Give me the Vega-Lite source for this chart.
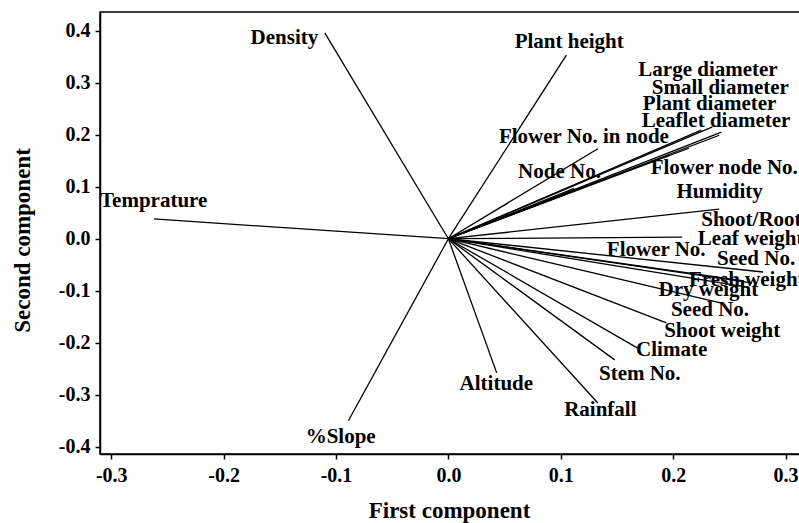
{
  "$schema": "https://vega.github.io/schema/vega-lite/v6.json",
  "autosize": {"type": "none"},
  "width": 708,
  "height": 442,
  "padding": {"left": 100, "top": 12, "right": 0, "bottom": 69},
  "background": "white",
  "config": {
    "view": {"stroke": "black", "strokeWidth": 1.5},
    "axis": {
      "grid": false,
      "domainColor": "black",
      "domainWidth": 1.5,
      "tickColor": "black",
      "tickWidth": 1.5,
      "tickSize": 5,
      "labelColor": "black",
      "labelFont": "Liberation Serif",
      "labelFontWeight": "bold",
      "labelFontSize": 20,
      "titleColor": "black",
      "titleFont": "Liberation Serif",
      "titleFontWeight": "bold",
      "titleFontSize": 23
    }
  },
  "data": {
    "values": [
      {"var": "Density", "pc1": -0.110, "pc2": 0.396, "lx": -0.176, "ly": 0.386},
      {"var": "Plant height", "pc1": 0.105, "pc2": 0.353, "lx": 0.059, "ly": 0.378},
      {"var": "Temprature", "pc1": -0.262, "pc2": 0.038, "lx": -0.310, "ly": 0.0725},
      {"var": "Large diameter", "pc1": 0.235, "pc2": 0.215, "lx": 0.169, "ly": 0.324},
      {"var": "Small diameter", "pc1": 0.243, "pc2": 0.205, "lx": 0.181, "ly": 0.290},
      {"var": "Plant diameter", "pc1": 0.225, "pc2": 0.209, "lx": 0.173, "ly": 0.259},
      {"var": "Leaflet diameter", "pc1": 0.241, "pc2": 0.199, "lx": 0.172, "ly": 0.226},
      {"var": "Flower No. in node", "pc1": 0.133, "pc2": 0.173, "lx": 0.045, "ly": 0.196},
      {"var": "Node No.", "pc1": 0.112, "pc2": 0.097, "lx": 0.062, "ly": 0.128},
      {"var": "Flower node No.", "pc1": 0.214, "pc2": 0.174, "lx": 0.180, "ly": 0.136},
      {"var": "Humidity", "pc1": 0.197, "pc2": 0.161, "lx": 0.203, "ly": 0.090},
      {"var": "Shoot/Root", "pc1": 0.241, "pc2": 0.057, "lx": 0.225, "ly": 0.036},
      {"var": "Leaf weight", "pc1": 0.208, "pc2": 0.003, "lx": 0.222, "ly": 0.0},
      {"var": "Flower No.", "pc1": 0.263, "pc2": -0.081, "lx": 0.141, "ly": -0.022},
      {"var": "Seed No.", "pc1": 0.280, "pc2": -0.064, "lx": 0.239, "ly": -0.039},
      {"var": "Fresh weight", "pc1": 0.270, "pc2": -0.085, "lx": 0.214, "ly": -0.079},
      {"var": "Dry weight", "pc1": 0.266, "pc2": -0.093, "lx": 0.187, "ly": -0.099},
      {"var": "Seed No.", "pc1": 0.243, "pc2": -0.124, "lx": 0.198, "ly": -0.137},
      {"var": "Shoot weight", "pc1": 0.194, "pc2": -0.162, "lx": 0.192, "ly": -0.178},
      {"var": "Climate", "pc1": 0.168, "pc2": -0.210, "lx": 0.167, "ly": -0.214},
      {"var": "Stem No.", "pc1": 0.148, "pc2": -0.233, "lx": 0.134, "ly": -0.260},
      {"var": "Altitude", "pc1": 0.043, "pc2": -0.258, "lx": 0.010, "ly": -0.279},
      {"var": "Rainfall", "pc1": 0.133, "pc2": -0.316, "lx": 0.103, "ly": -0.329},
      {"var": "%Slope", "pc1": -0.089, "pc2": -0.350, "lx": -0.127, "ly": -0.381}
    ]
  },
  "layer": [
    {
      "mark": {"type": "rule", "color": "black", "strokeWidth": 1.3},
      "encoding": {
        "x": {
          "field": "pc1", "type": "quantitative",
          "scale": {"domain": [-0.31, 0.32], "nice": false, "zero": false},
          "axis": {
            "values": [-0.3, -0.2, -0.1, 0, 0.1, 0.2, 0.3],
            "labelExpr": "replace(format(datum.value, '.1f'), '\u2212', '-')",
            "title": "First component",
            "labelPadding": 6,
            "titlePadding": 14,
            "titleX": 349
          }
        },
        "y": {
          "field": "pc2", "type": "quantitative",
          "scale": {"domain": [-0.414, 0.436], "nice": false, "zero": false},
          "axis": {
            "values": [-0.4, -0.3, -0.2, -0.1, 0, 0.1, 0.2, 0.3, 0.4],
            "labelExpr": "replace(format(datum.value, '.1f'), '\u2212', '-')",
            "title": "Second component",
            "labelPadding": 5,
            "titlePadding": 24,
            "titleY": 228
          }
        },
        "x2": {"datum": 0},
        "y2": {"datum": 0}
      }
    },
    {
      "mark": {
        "type": "text",
        "align": "left",
        "baseline": "middle",
        "font": "Liberation Serif",
        "fontWeight": "bold",
        "fontSize": 21,
        "color": "black"
      },
      "encoding": {
        "x": {"field": "lx", "type": "quantitative"},
        "y": {"field": "ly", "type": "quantitative"},
        "text": {"field": "var"}
      }
    }
  ]
}
